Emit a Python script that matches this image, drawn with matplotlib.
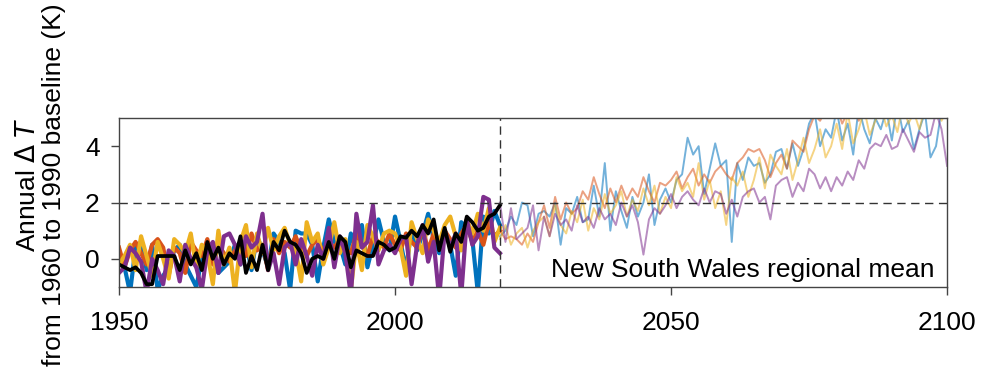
'''
Annual temperature anomaly, New South Wales regional mean
'''

import matplotlib.pyplot as plt
import numpy as np

plt.rcParams['font.family'] = ['Liberation Sans', 'DejaVu Sans']

hist_years = np.arange(1950, 2020)
proj_years = np.arange(2019, 2101)

obs = [-0.2, -0.3, -0.4, -0.3, -0.5, -0.9, -0.9, 0.1, 0.1, 0.1,
       0.1, -0.4, 0.3, -0.2, 0.2, -0.4, 0.6, 0.0, 0.4, -0.2,
       0.2, 0.0, 0.8, -0.5, 0.1, -0.4, 0.5, -0.4, 0.6, 0.3,
       1.0, 0.6, 0.5, 0.2, -0.5, 0.0, 0.1, 0.0, 0.6, 0.0,
       0.8, 0.6, -0.3, 0.3, 0.2, 0.1, 0.1, 0.6, 0.5, 0.3,
       0.4, 0.8, 0.75, 1.0, 0.8, 1.2, 0.9, 1.4, 0.3, 1.1,
       0.25, 0.9, 0.6, 1.5, 1.3, 1.0, 1.1, 1.5, 1.6, 1.9]

hist_blue = [0.0, -0.3, -1.2, 0.4, 0.6, -0.4, 0.5, -1.1, -0.6, -0.3,
             0.3, 0.5, -0.2, -0.6, -1.0, 0.0, 0.4, 0.3, -0.5, -0.3,
             -0.1, 0.5, -0.2, 0.6, -0.4, 0.8, 0.3, -0.3, 0.9, 0.6,
             0.2, -1.1, 1.0, 0.9, 0.9, 0.5, -0.8, 0.4, 1.4, 0.6,
             0.5, -0.2, 0.9, 0.2, 1.2, -0.3, 0.5, 1.4, 0.6, 0.3,
             1.5, 0.6, -0.4, 1.1, 0.3, 0.9, 1.6, 0.7, 0.2, 1.0,
             0.5, -0.6, 1.3, 1.1, 0.7, -1.2, 1.5, 0.9, 1.7, 1.2]
hist_red = [0.4, -0.3, 0.3, 0.6, 0.2, -0.2, 0.5, 0.7, 0.4, -0.6,
            0.4, 0.2, -0.5, 0.6, 0.3, 0.1, 0.7, -0.2, 0.5, 0.2,
            -0.1, 0.3, 0.6, 0.1, 0.9, 0.3, 0.5, -0.4, 0.7, 0.2,
            0.6, 0.4, 0.8, 0.3, 0.1, 0.5, 0.7, 0.2, 0.6, 0.4,
            0.7, 0.3, 0.2, 0.9, 0.5, 0.1, 0.8, 0.6, 0.4, 0.9,
            0.5, 0.3, 0.9, 0.6, 0.4, 1.1, 0.3, 0.9, 0.5, 1.0,
            0.7, 0.4, 0.9, 1.2, 0.6, 1.0, 0.5, 1.3, 0.8, 1.0]
hist_yellow = [-0.2, 0.1, 0.5, -0.4, 0.8, 0.1, -0.6, 0.6, 0.0, -0.7,
               0.7, 0.5, 0.2, 0.9, -0.3, 0.5, 0.2, -0.9, 1.0, -0.2,
               0.4, -1.2, 0.6, 1.2, -0.3, 0.9, 0.2, 1.1, 0.3, 0.8,
               1.1, 0.5, 0.3, -0.8, 1.3, 0.6, 0.9, -0.2, 0.4, 1.3,
               0.2, 0.7, -1.1, 0.6, -0.4, 1.2, 0.8, 0.3, 0.9, 1.0,
               0.9, 0.4, -0.6, 1.3, 0.7, 0.2, 1.4, 1.0, 0.6, 1.2,
               1.5, 0.8, 0.3, 1.4, 0.9, 1.6, 1.0, 1.8, 0.6, 1.1]
hist_purple = [-0.5, -0.3, 0.4, 0.2, -0.1, -1.2, 0.0, -0.4, -0.9, 0.3,
               0.1, -0.8, 0.5, 0.0, -0.3, -1.1, 0.3, 0.6, -0.5, 0.8,
               0.9, 0.5, -0.2, 0.8, 0.4, 0.6, 1.6, -0.4, 0.2, -0.9,
               0.4, 0.6, -0.2, 0.7, 0.1, -0.6, 0.5, 0.0, 1.1, -0.3,
               0.8, 0.2, -1.3, 1.6, 0.4, 0.6, 1.9, -0.2, 0.3, 0.5,
               0.2, 0.7, 0.8, -0.9, 0.5, 1.2, -0.1, 0.6, -1.4, 1.0,
               0.4, 0.9, -1.3, 1.4, 0.5, 0.8, 2.2, 2.1, 0.4, 0.2]

proj_blue = [0.8,
             1.0, 1.5, 1.2, 2.0, 1.9, 0.8, 1.6, 1.7, 1.5, 2.0,
             0.5, 1.8, 1.6, 2.2, 1.3, 1.4, 2.6, 1.5, 3.4, 1.0,
             2.4, 1.7, 1.1, 2.2, 1.5, 2.0, 3.0, 1.2, 2.1, 2.5,
             2.0, 2.8, 3.0, 4.3, 3.7, 4.0, 2.3, 3.2, 4.1, 3.3,
             3.5, 0.6, 3.4, 2.8, 3.6, 3.3, 3.4, 2.7, 3.0, 3.8,
             3.9, 3.2, 4.1, 3.3, 3.9, 4.8, 5.2, 4.0, 4.6, 4.3,
             5.3, 4.2, 4.8, 3.7, 5.4, 4.6, 4.1, 5.0, 4.6, 5.3,
             4.2, 5.5, 4.5, 4.9, 3.9, 4.6, 5.2, 3.6, 4.0, 5.3,
             5.6]
proj_red = [1.0,
            0.7, 0.8, 0.7, 0.5, 0.9, 0.6, 1.3, 1.9, 1.1, 2.2,
            1.4, 2.0, 1.6, 1.8, 2.4, 2.1, 2.9, 2.3, 1.8, 2.5,
            2.0, 2.6, 2.1, 2.5, 2.2, 2.9, 2.4, 2.0, 2.7, 2.6,
            2.8, 3.1, 2.5, 2.9, 3.2, 2.6, 3.0, 2.7, 3.1, 3.3,
            3.0, 2.8, 3.4, 3.6, 3.9, 3.8, 3.9, 3.5, 2.9, 3.4,
            3.7, 3.2, 4.2, 4.0, 3.8, 4.6, 5.1, 4.9, 5.3, 5.0,
            5.4, 4.8, 5.2, 5.5, 4.9, 5.3, 5.6, 5.0, 5.4, 5.7,
            5.2, 5.6, 5.0, 5.5, 5.8, 5.1, 5.6, 5.3, 5.9, 5.4,
            5.7]
proj_yellow = [0.7,
               1.2, 0.5, 0.9, 1.1, 0.4, 1.0, 1.3, 1.5, 0.8, 1.9,
               1.2, 0.9, 1.7, 1.3, 2.1, 1.0, 1.8, 1.4, 2.3, 1.6,
               1.9, 2.4, 1.5, 2.1, 1.7, 2.5, 1.9, 2.6, 1.6, 2.2,
               1.8, 2.9, 2.4, 2.7, 2.2, 3.4, 2.1, 2.8, 1.8, 2.4,
               1.2, 2.9, 2.6, 3.1, 2.2, 2.8, 3.6, 2.5, 3.7, 3.3,
               3.0, 3.9, 2.8, 3.5, 4.3, 3.4, 3.9, 4.6, 3.6, 4.0,
               4.8, 3.9, 5.2, 4.1, 4.6, 5.3, 4.4, 4.9, 5.4, 4.7,
               5.1, 4.5, 5.5, 4.8, 5.2, 4.6, 5.4, 5.0, 5.6, 4.9,
               5.3]
proj_purple = [2.0,
               0.6, 1.8, 0.7, 0.9, 1.1, 1.9, 0.3, 1.5, 0.8, 1.6,
               1.2, 1.4, 1.0, 1.9, 1.3, 1.5, 1.1, 1.8, 1.4, 1.6,
               1.2, 2.0, 1.5, 1.9, 1.3, 0.15, 1.4, 1.8, 1.6, 1.9,
               2.3, 1.8, 2.2, 2.4, 2.1, 1.9, 2.5, 2.0, 2.4, 2.3,
               1.6, 2.1, 1.5, 2.2, 2.4, 2.5, 2.0, 2.2, 1.4, 2.6,
               2.8, 2.9, 2.2, 2.7, 2.4, 3.2, 3.0, 2.5, 2.9, 2.4,
               2.9, 2.6, 3.1, 2.8, 3.5, 3.2, 3.9, 4.1, 4.0, 4.4,
               3.9, 4.0, 4.6, 4.2, 3.8, 4.5, 4.3, 4.4, 5.2, 4.6,
               3.3]

colors = ['#0072BD', '#D95319', '#EDB120', '#7E2F8E']
hist = [hist_blue, hist_red, hist_yellow, hist_purple]
proj = [proj_blue, proj_red, proj_yellow, proj_purple]

fig = plt.figure(figsize=(9.86, 3.77), dpi=100)
ax = fig.add_axes([0.1207, 0.2387, 0.8398, 0.4483])

for c in range(4):
    ax.plot(proj_years, proj[c], color=colors[c], lw=1.4, alpha=0.55)
for c in range(4):
    ax.plot(hist_years, hist[c], color=colors[c], lw=3)
ax.plot(hist_years, obs, color='black', lw=2.7)

ax.axhline(2, color='#333333', lw=1, ls=(0, (6, 4)))
ax.axvline(2019, color='#333333', lw=1, ls=(0, (6, 4)))

ax.set_xlim(1950, 2100)
ax.set_ylim(-1, 5)
ax.set_xticks([1950, 2000, 2050, 2100])
ax.set_yticks([0, 2, 4])
ax.tick_params(direction='out', length=6, width=1, labelsize=19, color='#444444')
ax.tick_params(axis='x', pad=11)
ax.tick_params(axis='y', pad=8)
for s in ax.spines.values():
    s.set_color('#444444')
    s.set_linewidth(1)

ax.text(0.985, 0.1, 'New South Wales regional mean', transform=ax.transAxes,
        ha='right', va='center', fontsize=19)
fig.text(0.042, 0.51, 'Annual $\\Delta$ $T$\nfrom 1960 to 1990 baseline (K)',
         rotation=90, ha='center', va='center', fontsize=19, linespacing=1.1)

plt.savefig('out.png', dpi=100)
